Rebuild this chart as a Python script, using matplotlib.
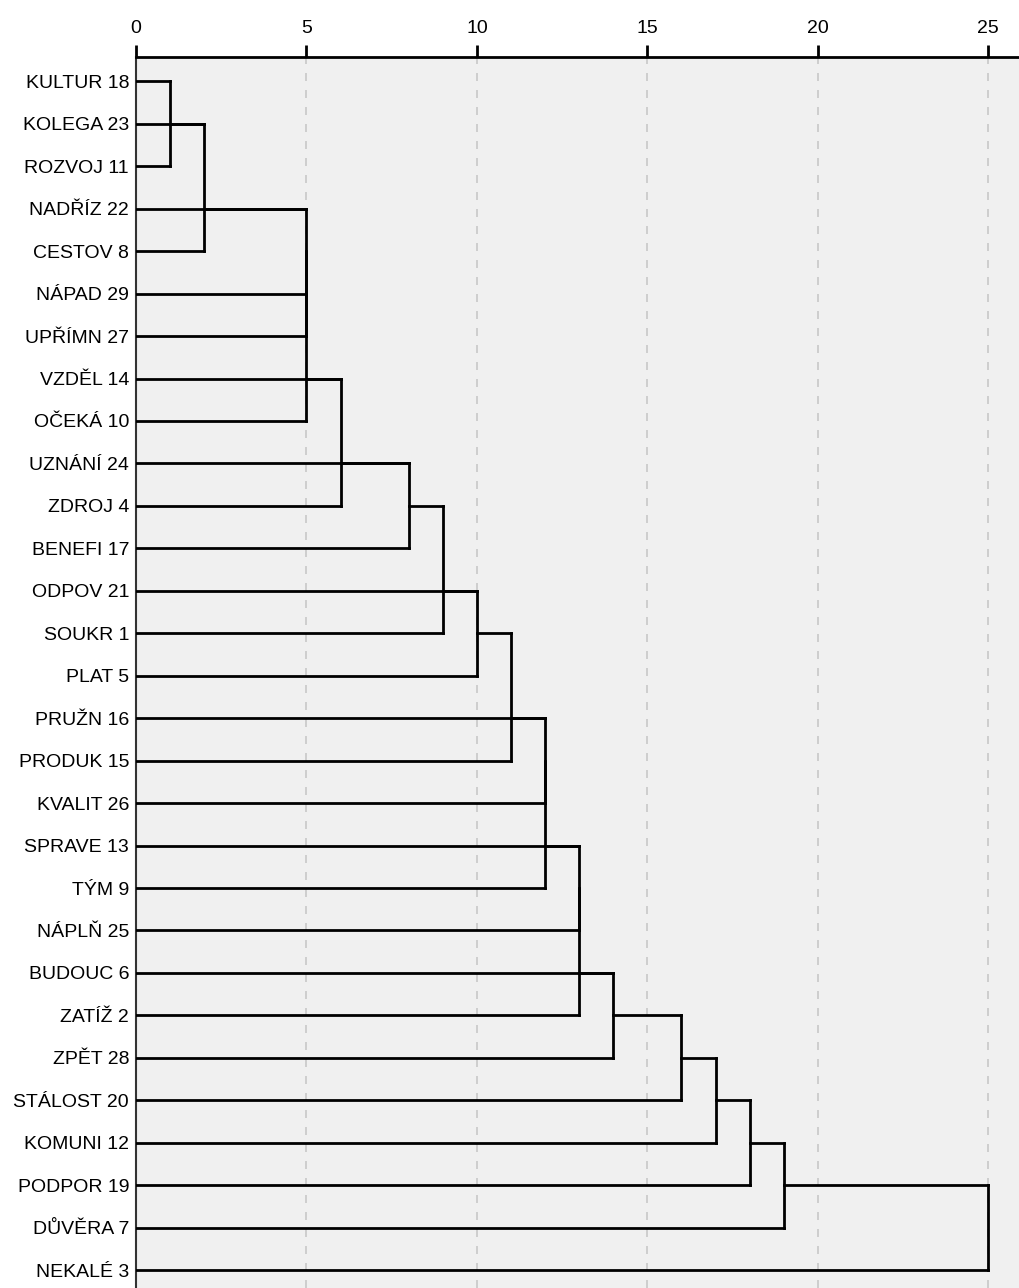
# encoding: utf-8
import math
import matplotlib
matplotlib.use("Agg")
import matplotlib.pyplot as plt

plt.rcParams['font.family'] = ['Liberation Sans', 'DejaVu Sans']

# leaf order top -> bottom
names = ["KULTUR", "KOLEGA", "ROZVOJ", "NADŘÍZ", "CESTOV", "NÁPAD", "UPŘÍMN", "VZDĚL",
         "OČEKÁ", "UZNÁNÍ", "ZDROJ", "BENEFI", "ODPOV", "SOUKR", "PLAT", "PRUŽN",
         "PRODUK", "KVALIT", "SPRAVE", "TÝM", "NÁPLŇ", "BUDOUC", "ZATÍŽ", "ZPĚT",
         "STÁLOST", "KOMUNI", "PODPOR", "DŮVĚRA", "NEKALÉ"]
case_nums = [18, 23, 11, 22, 8, 29, 27, 14, 10, 24, 4, 17, 21, 1, 5, 16, 15, 26,
             13, 9, 25, 6, 2, 28, 20, 12, 19, 7, 3]

# merges: (left, right, rescaled distance); str = leaf, int = earlier merge
merges = [
    ("KULTUR", "ROZVOJ", 1),
    (0, "KOLEGA", 2),
    (1, "CESTOV", 2),
    (2, "NADŘÍZ", 5),
    (3, "NÁPAD", 5),
    (4, "UPŘÍMN", 5),
    (5, "OČEKÁ", 5),
    (6, "VZDĚL", 6),
    (7, "ZDROJ", 6),
    (8, "UZNÁNÍ", 8),
    (9, "BENEFI", 8),
    (10, "SOUKR", 9),
    (11, "ODPOV", 10),
    (12, "PLAT", 10),
    (13, "PRODUK", 11),
    (14, "PRUŽN", 12),
    (15, "KVALIT", 12),
    (16, "TÝM", 12),
    (17, "SPRAVE", 13),
    (18, "NÁPLŇ", 13),
    (19, "ZATÍŽ", 13),
    (20, "BUDOUC", 14),
    (21, "ZPĚT", 14),
    (22, "STÁLOST", 16),
    (23, "KOMUNI", 17),
    (24, "PODPOR", 18),
    (25, "DŮVĚRA", 19),
    (26, "NEKALÉ", 25),
]
x_ticks = [0, 5, 10, 15, 20, 25]

fig = plt.figure(figsize=(10.19, 12.88), dpi=100)
ax = fig.add_axes([0.1335, 0.0, 0.8665, 0.956])
ax.set_facecolor('#f0f0f0')

pos = {}  # cluster id -> (row, height)
for i, n in enumerate(names):
    pos[n] = (i, 0)

for k, (a, b, h) in enumerate(merges):
    ra, ha = pos[a]
    rb, hb = pos[b]
    ax.plot([ha, h], [ra, ra], color='black', lw=2, solid_capstyle='projecting', zorder=3)
    ax.plot([hb, h], [rb, rb], color='black', lw=2, solid_capstyle='projecting', zorder=3)
    ax.plot([h, h], [ra, rb], color='black', lw=2, solid_capstyle='projecting', zorder=3)
    pos[k] = (math.floor((ra + rb) / 2 + 0.5), h)

for t in x_ticks[1:]:
    ax.axvline(t, color='#c8c8c8', lw=1.2, dashes=(4.8, 5.4), zorder=1)

ax.set_xlim(0, 25.9)
ax.set_ylim(len(names) - 1 + 0.42, -0.58)

ax.set_yticks(range(len(names)))
ax.set_yticklabels([f"{n} {c}" for n, c in zip(names, case_nums)], fontsize=14)
ax.tick_params(axis='y', length=0, pad=5)

ax.xaxis.tick_top()
ax.set_xticks(x_ticks)
ax.set_xticklabels([str(t) for t in x_ticks], fontsize=14)
ax.tick_params(axis='x', direction='out', length=9, width=2, pad=5)

ax.spines['top'].set_linewidth(2)
ax.spines['left'].set_linewidth(1.5)
ax.spines['left'].set_color('#333333')
ax.spines['right'].set_visible(False)
ax.spines['bottom'].set_visible(False)

fig.savefig('out.png', dpi=100)
